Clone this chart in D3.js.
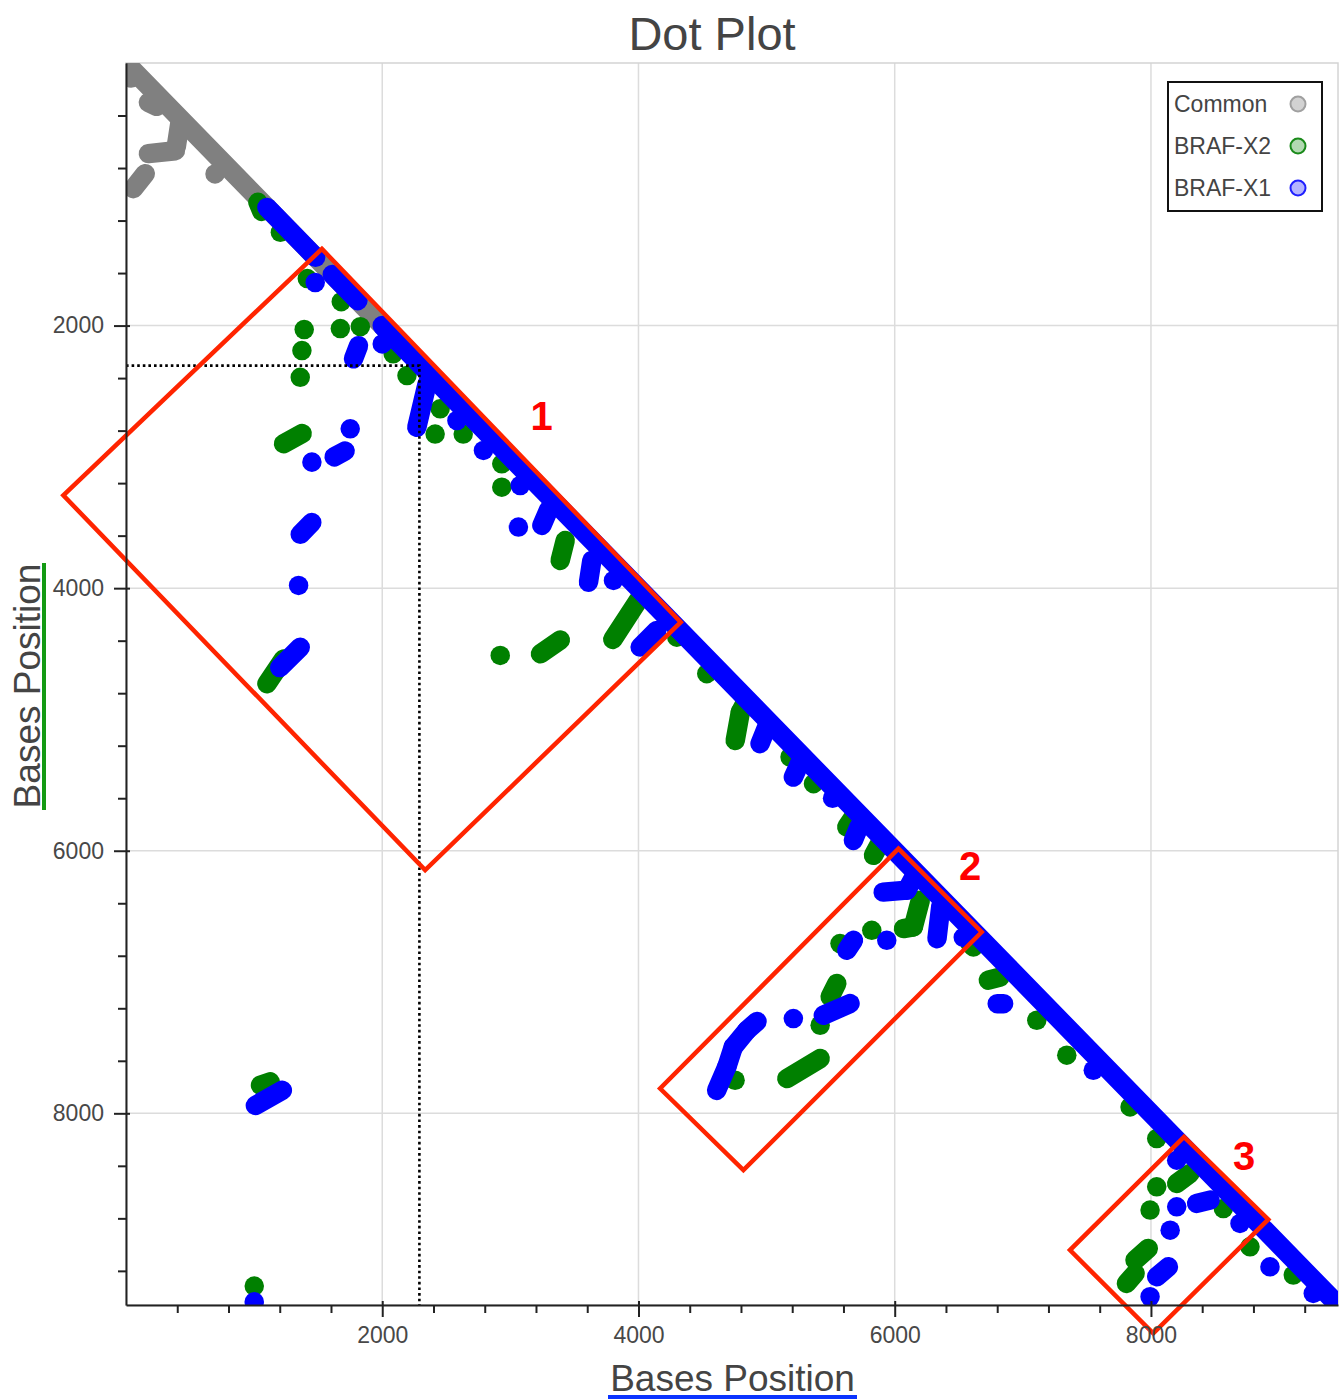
<!DOCTYPE html>
<html>
<head>
<meta charset="utf-8">
<script src="https://cdn.jsdelivr.net/npm/d3@7"></script>
<style>
  body { margin: 0; background: #fff; }
  text { font-family: "Liberation Sans", Arial, Helvetica, sans-serif; }
</style>
</head>
<body>
<svg id="chart" width="1343" height="1399"></svg>
<script>
// ---- data -------------------------------------------------------------
const seriesNames  = ["Common", "BRAF-X2", "BRAF-X1"];
const seriesColors = ["#808080", "#008000", "#0000ff"];
const legendFills  = ["#d2d2d2", "#b2d9b2", "#b4b4ff"];
const legendStroke = ["#a0a0a0", "#1a8a1a", "#1f1fff"];

const axisMax     = 9460;
const xTicks      = [2000, 4000, 6000, 8000];
const yTicks      = [2000, 4000, 6000, 8000];
const xTickLabels = ["2000", "4000", "6000", "8000"];
const yTickLabels = ["2000", "4000", "6000", "8000"];

// match runs as [x0, y0, x1, y1] in bases; a single hit repeats its position
const commonMarks = [
  [0, 0, 2050, 2050],
  [40, 115, 40, 115],
  [175, 300, 240, 330],
  [420, 460, 392, 640],
  [385, 668, 175, 690],
  [150, 843, 57, 957],
  [695, 845, 695, 845]
];

const x2Marks = [
  [1030, 1060, 1060, 1130],
  [1205, 1290, 1205, 1290],
  [1415, 1642, 1415, 1642],
  [1680, 1818, 1680, 1818],
  [1673, 2023, 1673, 2023],
  [1829, 2008, 1829, 2008],
  [1391, 2030, 1391, 2030],
  [1373, 2190, 1373, 2190],
  [1360, 2394, 1360, 2394],
  [2085, 2215, 2085, 2215],
  [2193, 2381, 2193, 2381],
  [2452, 2634, 2452, 2634],
  [2413, 2826, 2413, 2826],
  [1230, 2900, 1375, 2822],
  [2632, 2826, 2632, 2826],
  [2933, 3053, 2933, 3053],
  [2933, 3231, 2933, 3231],
  [3428, 3637, 3389, 3789],
  [3800, 4390, 4000, 4090],
  [2921, 4512, 2921, 4512],
  [3235, 4500, 3390, 4395],
  [4299, 4373, 4299, 4373],
  [1100, 4728, 1230, 4540],
  [4533, 4651, 4533, 4651],
  [4830, 4880, 4795, 4945],
  [4795, 4945, 4755, 5160],
  [5183, 5286, 5183, 5286],
  [5366, 5489, 5366, 5489],
  [5680, 5740, 5626, 5819],
  [5880, 5950, 5834, 6035],
  [6200, 6378, 6145, 6580],
  [6145, 6580, 6068, 6593],
  [5821, 6606, 5821, 6606],
  [5573, 6707, 5573, 6707],
  [5548, 7011, 5496, 7113],
  [5418, 7329, 5418, 7329],
  [5158, 7735, 5418, 7583],
  [4754, 7748, 4754, 7748],
  [6588, 6707, 6614, 6733],
  [6731, 6986, 6822, 6962],
  [7109, 7291, 7109, 7291],
  [7343, 7557, 7343, 7557],
  [7837, 7951, 7837, 7951],
  [8045, 8192, 8045, 8192],
  [8201, 8534, 8305, 8458],
  [8045, 8560, 8045, 8560],
  [7993, 8737, 7993, 8737],
  [7876, 9118, 7979, 9029],
  [7809, 9296, 7876, 9220],
  [8773, 9017, 8773, 9017],
  [9111, 9232, 9111, 9232],
  [8565, 8725, 8565, 8725],
  [1050, 7786, 1125, 7760],
  [1001, 9316, 1001, 9316]
];

const x1Marks = [
  [1100, 1100, 1480, 1480],
  [1610, 1610, 1810, 1810],
  [2000, 2000, 9460, 9460],
  [1477, 1672, 1477, 1672],
  [1815, 2153, 1776, 2253],
  [2000, 2140, 2000, 2140],
  [2350, 2444, 2270, 2775],
  [2583, 2723, 2583, 2723],
  [2790, 2951, 2790, 2951],
  [1750, 2786, 1750, 2786],
  [1625, 3000, 1710, 2955],
  [1451, 3040, 1451, 3040],
  [1360, 3590, 1450, 3500],
  [1347, 3979, 1347, 3979],
  [1200, 4605, 1360, 4450],
  [3077, 3218, 3077, 3218],
  [3063, 3535, 3063, 3535],
  [3300, 3400, 3246, 3522],
  [3636, 3789, 3610, 3954],
  [3805, 3941, 3805, 3941],
  [4013, 4449, 4143, 4322],
  [5000, 5060, 4949, 5184],
  [5260, 5330, 5209, 5439],
  [5515, 5600, 5515, 5600],
  [5720, 5820, 5677, 5921],
  [5910, 6315, 6095, 6300],
  [6095, 6300, 6150, 6200],
  [5938, 6682, 5938, 6682],
  [6360, 6420, 6330, 6670],
  [6535, 6660, 6535, 6660],
  [5626, 6758, 5678, 6682],
  [5443, 7253, 5651, 7164],
  [5209, 7278, 5209, 7278],
  [4925, 7300, 4845, 7370],
  [4845, 7370, 4740, 7495],
  [4740, 7495, 4690, 7645],
  [4690, 7645, 4610, 7825],
  [6800, 7165, 6850, 7165],
  [7550, 7672, 7550, 7672],
  [8201, 8357, 8201, 8357],
  [8357, 8686, 8461, 8661],
  [8201, 8712, 8201, 8712],
  [8150, 8890, 8150, 8890],
  [8045, 9245, 8136, 9169],
  [7993, 9397, 7993, 9397],
  [8695, 8839, 8695, 8839],
  [8929, 9169, 8929, 9169],
  [9267, 9372, 9267, 9372],
  [1010, 7940, 1220, 7825],
  [1001, 9436, 1001, 9436]
];

// highlighted regions (corner points in bases) and their numbers
const region1 = [[1529, 1416], [4330, 4259], [2335, 6148], [-489, 3293]];
const region2 = [[6029, 5984], [6679, 6619], [4819, 8433], [4169, 7811]];
const region3 = [[8258, 8179], [8916, 8808], [8018, 9676], [7368, 9042]];
const regionLabels = [["1", 3244, 2686], ["2", 6588, 6119], ["3", 8727, 8326]];

// cursor position marked by the dotted guide
const cursor = [2290, 2305];

// ---- drawing ----------------------------------------------------------
const svg = d3.select("#chart");
const plot = { left: 126, top: 63, right: 1338, bottom: 1305 };
const x = d3.scaleLinear().domain([0, axisMax]).range([plot.left, plot.right]);
const y = d3.scaleLinear().domain([0, axisMax]).range([plot.top, plot.bottom]);
const dotWidth = 19.5;

svg.append("rect").attr("width", 1343).attr("height", 1399).attr("fill", "#fff");

svg.append("defs").append("clipPath").attr("id", "plot-clip")
  .append("rect")
  .attr("x", plot.left).attr("y", plot.top)
  .attr("width", plot.right - plot.left).attr("height", plot.bottom - plot.top);

// grid
const grid = svg.append("g").attr("stroke", "#dcdcdc").attr("stroke-width", 1.5);
grid.selectAll("line.gx").data(xTicks).join("line")
  .attr("x1", d => x(d)).attr("x2", d => x(d))
  .attr("y1", plot.top).attr("y2", plot.bottom);
grid.selectAll("line.gy").data(yTicks).join("line")
  .attr("y1", d => y(d)).attr("y2", d => y(d))
  .attr("x1", plot.left).attr("x2", plot.right);
svg.append("rect")
  .attr("x", plot.left).attr("y", plot.top)
  .attr("width", plot.right - plot.left).attr("height", plot.bottom - plot.top)
  .attr("fill", "none").attr("stroke", "#d4d4d4").attr("stroke-width", 1.5);

// match dots
const marks = svg.append("g").attr("clip-path", "url(#plot-clip)");
[commonMarks, x2Marks, x1Marks].forEach((rows, i) => {
  const g = marks.append("g")
    .attr("stroke", seriesColors[i])
    .attr("stroke-width", dotWidth)
    .attr("stroke-linecap", "round")
    .attr("stroke-linejoin", "round");
  g.selectAll("path").data(rows).join("path")
    .attr("d", d => `M${x(d[0])},${y(d[1])}L${x(d[2]) + 0.01},${y(d[3]) + 0.01}`);
});

// dotted guide
svg.append("path")
  .attr("d", `M${x(0)},${y(cursor[1])}H${x(cursor[0])}V${y(axisMax)}`)
  .attr("fill", "none").attr("stroke", "#000")
  .attr("stroke-width", 2.6).attr("stroke-dasharray", "2.6,3");

// highlighted regions
const outline = d3.line().x(d => x(d[0])).y(d => y(d[1])).curve(d3.curveLinearClosed);
svg.append("g").selectAll("path").data([region1, region2, region3]).join("path")
  .attr("d", outline)
  .attr("fill", "none").attr("stroke", "#ff2400")
  .attr("stroke-width", 4.5).attr("stroke-linejoin", "miter");
svg.append("g").selectAll("text").data(regionLabels).join("text")
  .attr("x", d => x(d[1])).attr("y", d => y(d[2]))
  .attr("text-anchor", "middle").attr("dominant-baseline", "central")
  .attr("fill", "#ff0000").attr("font-size", 40).attr("font-weight", "bold")
  .text(d => d[0]);

// axes
const minorTicks = d3.range(400, axisMax, 400).filter(v => v % 2000 !== 0);

function styleAxis(g) {
  g.select(".domain").attr("stroke", "#222").attr("stroke-width", 2);
  g.selectAll(".tick line").attr("stroke", "#222").attr("stroke-width", 2);
  g.selectAll(".tick text")
    .attr("fill", "#484848").attr("font-size", 23)
    .attr("font-family", "\"Liberation Sans\", Arial, sans-serif");
}

const gxMinor = svg.append("g").attr("transform", `translate(0,${plot.bottom})`)
  .call(d3.axisBottom(x).tickValues(minorTicks).tickSize(8).tickSizeOuter(0).tickFormat(""));
gxMinor.select(".domain").remove();
gxMinor.selectAll(".tick line").attr("stroke", "#222").attr("stroke-width", 2);

const gyMinor = svg.append("g").attr("transform", `translate(${plot.left},0)`)
  .call(d3.axisLeft(y).tickValues(minorTicks).tickSize(8).tickSizeOuter(0).tickFormat(""));
gyMinor.select(".domain").remove();
gyMinor.selectAll(".tick line").attr("stroke", "#222").attr("stroke-width", 2);

const gx = svg.append("g").attr("transform", `translate(0,${plot.bottom})`)
  .call(d3.axisBottom(x).tickValues(xTicks).tickSize(12).tickSizeOuter(0).tickPadding(10)
    .tickFormat((d, i) => xTickLabels[i]));
styleAxis(gx);
gx.selectAll(".tick line").attr("y1", -4);

const gy = svg.append("g").attr("transform", `translate(${plot.left},0)`)
  .call(d3.axisLeft(y).tickValues(yTicks).tickSize(12).tickSizeOuter(0).tickPadding(10)
    .tickFormat((d, i) => yTickLabels[i]));
styleAxis(gy);
gy.selectAll(".tick line").attr("x1", 4);

// titles
svg.append("text")
  .attr("x", 712).attr("y", 50).attr("text-anchor", "middle")
  .attr("font-size", 47).attr("fill", "#444")
  .text("Dot Plot");

svg.append("text")
  .attr("x", 732.5).attr("y", 1391).attr("text-anchor", "middle")
  .attr("font-size", 37).attr("fill", "#444")
  .text("Bases Position");
svg.append("rect").attr("x", 608).attr("y", 1395).attr("width", 249).attr("height", 4)
  .attr("fill", "#0a33ff");

svg.append("text")
  .attr("transform", "translate(40,686) rotate(-90)").attr("text-anchor", "middle")
  .attr("font-size", 37).attr("fill", "#444")
  .text("Bases Position");
svg.append("rect").attr("x", 42).attr("y", 563).attr("width", 4).attr("height", 247)
  .attr("fill", "#139a13");

// legend
const legend = svg.append("g");
legend.append("rect")
  .attr("x", 1168).attr("y", 82).attr("width", 154).attr("height", 129)
  .attr("fill", "#fff").attr("stroke", "#111").attr("stroke-width", 2);
const items = legend.selectAll("g.item").data(seriesNames).join("g")
  .attr("transform", (d, i) => `translate(0,${104 + i * 42})`);
items.append("text")
  .attr("x", 1174).attr("y", 8)
  .attr("font-size", 23).attr("fill", "#444")
  .text(d => d);
items.append("circle")
  .attr("cx", 1298).attr("cy", 0).attr("r", 7.5)
  .attr("fill", (d, i) => legendFills[i])
  .attr("stroke", (d, i) => legendStroke[i]).attr("stroke-width", 2);
</script>
</body>
</html>
